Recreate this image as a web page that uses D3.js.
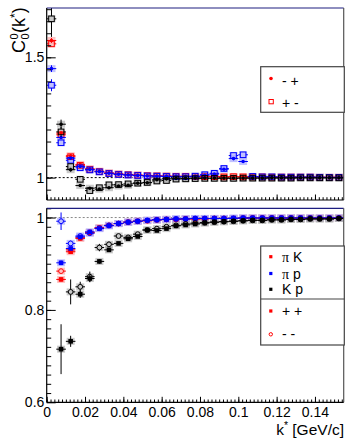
<!DOCTYPE html>
<html><head><meta charset="utf-8">
<script src="https://cdn.jsdelivr.net/npm/d3@7"></script>
<style>body{margin:0;background:#fff}svg{display:block;font-family:"Liberation Sans",Arial,sans-serif}</style>
</head><body>
<svg id="c" width="357" height="444"></svg>
<script>
// ---------- data ----------
const kStar = [0.0025,0.0075,0.0125,0.0175,0.0225,0.0275,0.0325,0.0375,0.0425,0.0475,0.0525,0.0575,0.0625,0.0675,0.0725,0.0775,0.0825,0.0875,0.0925,0.0975,0.1025,0.1075,0.1125,0.1175,0.1225,0.1275,0.1325,0.1375,0.1425,0.1475,0.1525];
const binHalfWidth = 0.0025;
const xTickLabels = [0,0.02,0.04,0.06,0.08,0.1,0.12,0.14];
const yTopTickLabels = [1,1.5];
const yBotTickLabels = [0.6,0.8,1];

// top panel: opposite charges
const piK_mp = [1.570,1.185,1.091,1.055,1.037,1.027,1.020,1.016,1.013,1.011,1.009,1.008,1.007,1.006,1.006,1.005,1.005,1.005,1.004,1.004,1.004,1.004,1.003,1.003,1.003,1.003,1.002,1.002,1.002,1.002,1.002];
const piK_pm = [1.556,1.178,1.087,1.051,1.034,1.025,1.018,1.014,1.012,1.010,1.008,1.007,1.006,1.005,1.005,1.004,1.004,1.004,1.003,1.004,1.003,1.003,1.003,1.002,1.002,1.002,1.002,1.002,1.001,1.001,1.001];
const piP_mp = [1.453,1.167,1.081,1.046,1.034,1.025,1.018,1.014,1.011,1.009,1.007,1.006,1.005,1.005,1.004,1.005,1.010,1.015,1.035,1.079,1.067,1.004,1.003,1.003,1.002,1.002,1.002,1.002,1.002,1.001,1.001];
const piP_pm = [1.384,1.145,1.072,1.041,1.032,1.024,1.017,1.013,1.011,1.009,1.007,1.006,1.005,1.004,1.004,1.006,1.012,1.018,1.038,1.092,1.095,1.005,1.003,1.003,1.002,1.002,1.002,1.002,1.001,1.001,1.001];
const Kp_mp  = [null,1.222,1.033,0.967,0.956,0.952,0.958,0.965,0.968,0.977,0.979,0.991,0.995,0.997,0.997,0.998,0.998,0.998,0.998,0.998,0.998,0.998,0.998,0.999,0.999,0.999,0.999,0.999,0.999,0.999,0.999];
const Kp_pm  = [1.660,1.190,1.046,0.993,0.946,0.958,0.970,0.971,0.974,0.977,0.980,0.986,0.988,0.994,0.995,0.996,0.997,0.997,0.997,0.997,0.998,0.998,0.998,0.998,0.998,0.998,0.999,0.999,0.999,0.999,0.999];
const err_piK_mp = [0.010,0.006,0.004];
const err_piK_pm = [0.010,0.006,0.004];
const err_piP_mp = [0.014,0.006,0.004];
const err_piP_pm = [0.025,0.008,0.004];
const err_Kp_mp  = [0,0.019,0.008,0.004];
const err_Kp_pm  = [0.075,0.020,0.008,0.004];

// bottom panel: like-sign charges
const piK_pp = [null,0.866,0.926,0.955,0.967,0.978,0.983,0.987,0.990,0.992,0.994,0.995,0.996,0.996,0.997,0.997,0.998,0.998,0.998,0.998,0.999,0.999,0.999,0.999,0.999,0.999,0.999,0.999,0.999,0.999,0.999];
const piK_mm = [null,0.884,0.930,0.956,0.968,0.977,0.983,0.987,0.990,0.992,0.993,0.995,0.996,0.996,0.997,0.997,0.997,0.998,0.998,0.998,0.998,0.999,0.999,0.999,0.999,0.999,0.999,0.999,0.999,0.999,0.999];
const piP_pp = [null,0.902,0.933,0.958,0.969,0.976,0.982,0.987,0.990,0.992,0.994,0.995,0.996,0.997,0.997,0.998,0.998,0.998,0.998,0.999,0.999,0.999,0.999,0.999,0.999,0.999,0.999,0.999,0.999,0.999,0.999];
const piP_mm = [null,0.992,0.944,0.960,0.966,0.977,0.983,0.987,0.990,0.992,0.994,0.995,0.996,0.997,0.997,0.998,0.998,0.998,0.998,0.998,0.999,0.999,0.999,0.999,0.999,0.999,0.999,0.999,0.999,0.999,0.999];
const Kp_pp  = [null,0.715,0.732,0.834,0.868,0.905,0.930,0.944,0.954,0.959,0.973,0.972,0.976,0.982,0.984,0.986,0.988,0.990,0.991,0.992,0.993,0.994,0.994,0.995,0.995,0.996,0.996,0.997,0.997,0.997,0.998];
const Kp_mm  = [null,null,0.839,0.850,0.872,0.935,0.942,0.960,0.957,0.964,0.973,0.976,0.980,0.983,0.986,0.988,0.989,0.990,0.991,0.992,0.993,0.994,0.994,0.995,0.995,0.996,0.996,0.997,0.997,0.997,0.998];
const err_piK_pp = [0,0.004,0.003];
const err_piK_mm = [0,0.005,0.003];
const err_piP_pp = [0,0.005,0.003];
const err_piP_mm = [0,0.019,0.006,0.003];
const err_Kp_pp  = [0,0.054,0.012,0.008,0.008,0.005];
const err_Kp_mm  = [0,0,0.027,0.011,0.011,0.008,0.006];

// ---------- drawing ----------
const svg = d3.select("#c");
const X0 = 46.7, X1 = 343.7;
const x = d3.scaleLinear().domain([0, 0.155]).range([X0, X1]);
const RED = "#ff0000", BLUE = "#0000ff", BLACK = "#000000";
const SYS = {[RED]: "#ffa8a8", [BLUE]: "#a8a8ff", [BLACK]: "#b4b4b4"};

const panels = [
  {id:"top", y0:8, y1:200, y: d3.scaleLinear().domain([0.907,1.705]).range([200,8]),
   ticks: yTopTickLabels, minor: d3.range(0.95, 1.7001, 0.05), lineColor:"#000",
   series: [
     {v:piK_mp, e:err_piK_mp, c:RED, s:"dot"},
     {v:piK_pm, e:err_piK_pm, c:RED, s:"osq"},
     {v:piP_mp, e:err_piP_mp, c:BLUE, s:"dot"},
     {v:piP_pm, e:err_piP_pm, c:BLUE, s:"osq"},
     {v:Kp_mp,  e:err_Kp_mp,  c:BLACK, s:"dot"},
     {v:Kp_pm,  e:err_Kp_pm,  c:BLACK, s:"osq"}]},
  {id:"bot", y0:208.3, y1:402.3, y: d3.scaleLinear().domain([0.6,1.02]).range([402.3,208.3]),
   ticks: yBotTickLabels, minor: d3.range(0.62, 1.0201, 0.02), lineColor:"#888",
   series: [
     {v:piK_pp, e:err_piK_pp, c:RED, s:"fsq"},
     {v:piK_mm, e:err_piK_mm, c:RED, s:"ocirc"},
     {v:piP_pp, e:err_piP_pp, c:BLUE, s:"fsq"},
     {v:piP_mm, e:err_piP_mm, c:BLUE, s:"ocirc"},
     {v:Kp_pp,  e:err_Kp_pp,  c:BLACK, s:"fsq"},
     {v:Kp_mm,  e:err_Kp_mm,  c:BLACK, s:"ocirc"}]}
];
const HALF = {dot:1.8, osq:2.8, fsq:2.3, ocirc:2.4};
const fmt = d => String(+d.toFixed(3));

panels.forEach(p => {
  const g = svg.append("g");
  svg.append("clipPath").attr("id","clip-"+p.id).append("rect")
    .attr("x",X0).attr("y",p.y0).attr("width",X1-X0).attr("height",p.y1-p.y0);
  const pg = g.append("g").attr("clip-path","url(#clip-"+p.id+")");

  // reference line at 1
  pg.append("line").attr("x1",X0).attr("x2",X1).attr("y1",p.y(1)).attr("y2",p.y(1))
    .attr("stroke",p.lineColor).attr("stroke-width",1).attr("stroke-dasharray","2,2");

  // systematic boxes
  p.series.forEach(s => {
    s.v.forEach((v,i) => {
      if (v == null) return;
      pg.append("rect").attr("x",x(kStar[i])-4).attr("y",p.y(v)-3.5).attr("width",8).attr("height",7)
        .attr("fill",SYS[s.c]).attr("opacity",0.7);
    });
  });
  // error bars and markers
  p.series.forEach(s => {
    const h = HALF[s.s];
    const open = (s.s === "osq" || s.s === "ocirc");
    s.v.forEach((v,i) => {
      if (v == null) return;
      const cx = x(kStar[i]), cy = p.y(v);
      const e = s.e[i] || 0.002;
      const gap = open ? h : 0;
      const xl = x(kStar[i]-binHalfWidth), xr = x(kStar[i]+binHalfWidth);
      pg.append("line").attr("x1",xl).attr("x2",cx-gap).attr("y1",cy).attr("y2",cy).attr("stroke",s.c).attr("stroke-width",1);
      pg.append("line").attr("x1",cx+gap).attr("x2",xr).attr("y1",cy).attr("y2",cy).attr("stroke",s.c).attr("stroke-width",1);
      const yt = p.y(v+e), yb = p.y(v-e);
      if (cy - yt > gap) pg.append("line").attr("x1",cx).attr("x2",cx).attr("y1",cy-gap).attr("y2",yt).attr("stroke",s.c).attr("stroke-width",1);
      if (yb - cy > gap) pg.append("line").attr("x1",cx).attr("x2",cx).attr("y1",cy+gap).attr("y2",yb).attr("stroke",s.c).attr("stroke-width",1);
      if (s.s === "dot") pg.append("circle").attr("cx",cx).attr("cy",cy).attr("r",h).attr("fill",s.c);
      else if (s.s === "osq") pg.append("rect").attr("x",cx-h).attr("y",cy-h).attr("width",2*h).attr("height",2*h).attr("fill","none").attr("stroke",s.c).attr("stroke-width",1);
      else if (s.s === "fsq") pg.append("rect").attr("x",cx-h).attr("y",cy-h).attr("width",2*h).attr("height",2*h).attr("fill",s.c);
      else pg.append("circle").attr("cx",cx).attr("cy",cy).attr("r",h).attr("fill","none").attr("stroke",s.c).attr("stroke-width",1);
    });
  });

  // axes
  const xa = g.append("g").attr("transform",`translate(0,${p.y1})`);
  xa.call(d3.axisBottom(x).tickValues(d3.range(0,0.1551,0.002)).tickSize(-2.8).tickSizeOuter(0).tickFormat(""));
  const xm = g.append("g").attr("transform",`translate(0,${p.y1})`);
  xm.call(d3.axisBottom(x).tickValues(xTickLabels).tickSize(-5.5).tickSizeOuter(0).tickPadding(5.2)
      .tickFormat(p.id === "bot" ? fmt : () => ""));
  const ya = g.append("g").attr("transform",`translate(${X0},0)`);
  ya.call(d3.axisLeft(p.y).tickValues(p.minor).tickSize(-4.5).tickSizeOuter(0).tickFormat(""));
  const ym = g.append("g").attr("transform",`translate(${X0},0)`);
  ym.call(d3.axisLeft(p.y).tickValues(p.ticks).tickSize(-9).tickSizeOuter(0).tickPadding(2.4).tickFormat(fmt));
  g.selectAll(".domain").remove();
  g.selectAll(".tick line").attr("stroke","#000");
  g.selectAll(".tick text").attr("font-size",14).attr("font-family","Liberation Sans, Arial, sans-serif").attr("fill","#000");

  // frame
  g.append("line").attr("x1",X0).attr("x2",X1).attr("y1",p.y0).attr("y2",p.y0).attr("stroke","#1e1e80").attr("stroke-width",1.2);
  g.append("line").attr("x1",X1).attr("x2",X1).attr("y1",p.y0).attr("y2",p.y1).attr("stroke","#555").attr("stroke-width",1.2);
  g.append("line").attr("x1",X0).attr("x2",X1).attr("y1",p.y1).attr("y2",p.y1).attr("stroke","#000").attr("stroke-width",1.2);
  g.append("line").attr("x1",X0).attr("x2",X0).attr("y1",p.y0).attr("y2",p.y1).attr("stroke","#000").attr("stroke-width",1.2);
});

// ---------- legends ----------
const LX = 260.7, LW = 83.6;
const leg1 = svg.append("g");
leg1.append("rect").attr("x",LX).attr("y",66.7).attr("width",LW).attr("height",45.6)
  .attr("fill","#fff").attr("stroke","#444").attr("stroke-width",1.2);
leg1.append("circle").attr("cx",271).attr("cy",78.5).attr("r",1.8).attr("fill",RED);
leg1.append("rect").attr("x",269).attr("y",99.5).attr("width",4.3).attr("height",4.3).attr("fill","none").attr("stroke",RED).attr("stroke-width",1);
leg1.append("text").attr("x",282).attr("y",85.5).attr("font-size",14).text("- +");
leg1.append("text").attr("x",282).attr("y",108).attr("font-size",14).text("+ -");

const leg2 = svg.append("g");
leg2.append("rect").attr("x",LX).attr("y",246).attr("width",LW).attr("height",99)
  .attr("fill","#fff").attr("stroke","#444").attr("stroke-width",1.2);
leg2.append("line").attr("x1",LX).attr("x2",LX+LW).attr("y1",299).attr("y2",299).attr("stroke","#444").attr("stroke-width",1.2);
const legRows = [
  {c:RED, y:256.7, t:["π"," K"]},
  {c:BLUE, y:273.5, t:["π"," p"]},
  {c:BLACK, y:289.3, t:["","K p"]}
];
legRows.forEach(r => {
  leg2.append("rect").attr("x",269.2).attr("y",r.y-1.6).attr("width",3.2).attr("height",3.2).attr("fill",r.c);
  const t = leg2.append("text").attr("x",282).attr("y",r.y+5).attr("font-size",14);
  if (r.t[0]) t.append("tspan").attr("font-family","Liberation Serif, DejaVu Serif, serif").attr("font-size",14).text(r.t[0]);
  t.append("tspan").text(r.t[1]);
});
leg2.append("rect").attr("x",269.2).attr("y",309.4).attr("width",3.2).attr("height",3.2).attr("fill",RED);
leg2.append("text").attr("x",282).attr("y",316).attr("font-size",14).text("+ +");
leg2.append("circle").attr("cx",270.8).attr("cy",334.3).attr("r",1.7).attr("fill","none").attr("stroke",RED).attr("stroke-width",1);
leg2.append("text").attr("x",282).attr("y",339).attr("font-size",14).text("- -");

// ---------- axis titles ----------
const yl = svg.append("g").attr("transform","translate(25,53) rotate(-90)");
yl.append("text").attr("x",0).attr("y",0).attr("font-size",18).text("C");
yl.append("text").attr("x",13.5).attr("y",-7.5).attr("font-size",11).text("0");
yl.append("text").attr("x",13.5).attr("y",3.5).attr("font-size",11).text("0");
const ylt = yl.append("text").attr("x",20).attr("y",0).attr("font-size",18);
ylt.append("tspan").text("(k");
ylt.append("tspan").attr("font-size",12).attr("dy",-6).text("*");
ylt.append("tspan").attr("dy",6).text(")");

const xl = svg.append("text").attr("x",344).attr("y",435).attr("font-size",15.5).attr("text-anchor","end");
xl.append("tspan").text("k");
xl.append("tspan").attr("font-size",10.5).attr("dy",-6).text("*");
xl.append("tspan").attr("dy",6).text(" [GeV/c]");
</script>
</body></html>
